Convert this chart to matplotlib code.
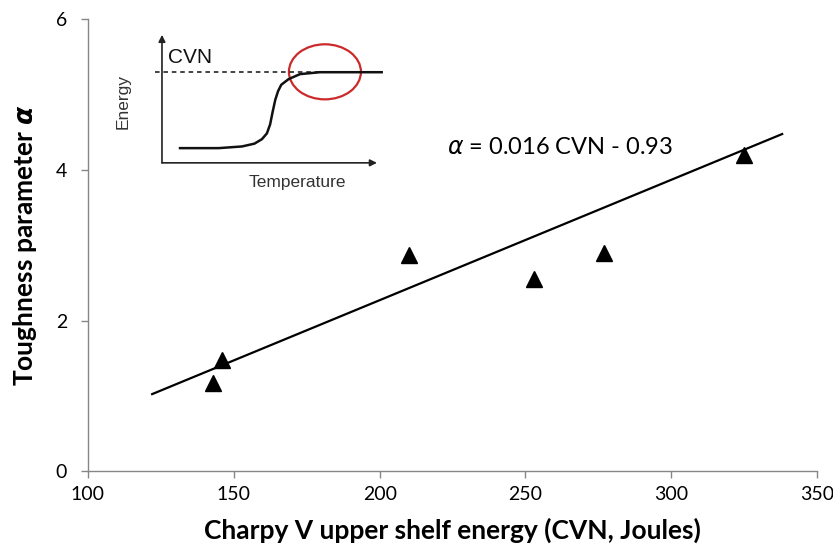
import numpy as np
import matplotlib
matplotlib.use("Agg")
import matplotlib.pyplot as plt
from matplotlib.patches import Ellipse

plt.rcParams['font.family'] = ['Lato', 'DejaVu Sans']
plt.rcParams['mathtext.fontset'] = 'dejavusans'

# measured points: Charpy upper shelf energy vs toughness parameter
cvn = [143, 146, 210, 253, 277, 325]
alpha = [1.17, 1.47, 2.87, 2.55, 2.90, 4.20]

# trendline alpha = 0.016 CVN - 0.93
slope = 0.016
intercept = -0.93
fit_range = [122, 338]

# schematic Charpy transition curve for the inset (temperature, energy)
curve_t = [0.084, 0.264, 0.372, 0.430, 0.465, 0.488, 0.503, 0.515, 0.527, 0.540,
           0.555, 0.589, 0.642, 0.735, 1.022]
curve_e = [0.115, 0.115, 0.128, 0.150, 0.185, 0.230, 0.300, 0.400, 0.492, 0.560,
           0.610, 0.654, 0.693, 0.708, 0.708]
upper_shelf = 0.708

fig = plt.figure(figsize=(8.33, 5.52), dpi=100)
ax = fig.add_axes([0.1056, 0.1467, 0.8754, 0.818])

grey = '#868686'
fx = np.array(fit_range)
ax.plot(fx, slope * fx + intercept, color='black', lw=1.6, zorder=2)
ax.plot(cvn, alpha, linestyle='none', marker='^', ms=11, color='black', zorder=3)

ax.set_xlim(100, 350)
ax.set_ylim(0, 6)
ax.set_xticks([100, 150, 200, 250, 300, 350])
ax.set_yticks([0, 2, 4, 6])
for s in ['top', 'right']:
    ax.spines[s].set_visible(False)
for s in ['left', 'bottom']:
    ax.spines[s].set_color(grey)
    ax.spines[s].set_linewidth(1.0)
ax.tick_params(axis='both', direction='out', length=5, width=1, color=grey,
               labelsize=14, labelcolor='black', pad=6)
ax.tick_params(axis='y', pad=10)

ax.set_xlabel('Charpy V upper shelf energy (CVN, Joules)', fontsize=19,
              fontweight='bold', labelpad=10)
ax.set_ylabel(r'Toughness parameter $\boldsymbol{\alpha}$', fontsize=19,
              fontweight='bold', labelpad=12)

ax.text(223, 4.3, r'$\alpha$ = 0.016 CVN - 0.93', fontsize=17, ha='left', va='center')

# inset: schematic of the ductile-brittle transition
ins = fig.add_axes([0.180, 0.647, 0.288, 0.308])
ins.set_xlim(-0.056, 1.060)
ins.set_ylim(-0.25, 1.078)
ins.axis('off')
ins.annotate('', xy=(1.0, 0), xytext=(0, 0),
             arrowprops=dict(arrowstyle='-|>', color='#222222', lw=1.2,
                             mutation_scale=10, shrinkA=0, shrinkB=0))
ins.annotate('', xy=(0, 1.0), xytext=(0, 0),
             arrowprops=dict(arrowstyle='-|>', color='#222222', lw=1.2,
                             mutation_scale=10, shrinkA=0, shrinkB=0))
ins.plot(curve_t, curve_e, color='#111111', lw=1.8)
ins.plot([-0.033, 0.74], [upper_shelf, upper_shelf], color='#111111', lw=1.1,
         linestyle=(0, (3, 2.5)))
ins.add_patch(Ellipse((0.758, 0.711), 0.335, 0.43, fill=False,
                      edgecolor='#cc2a2a', lw=1.6))
ins.text(0.028, 0.82, 'CVN', fontsize=15, family='Liberation Sans',
         ha='left', va='center', color='#111111')
ins.text(-0.18, 0.48, 'Energy', fontsize=12.5, family='Liberation Sans',
         rotation=90, ha='center', va='center', color='#333333')
ins.text(0.63, -0.155, 'Temperature', fontsize=12.5, family='Liberation Sans',
         ha='center', va='center', color='#333333')

fig.savefig('out.png', dpi=100)
